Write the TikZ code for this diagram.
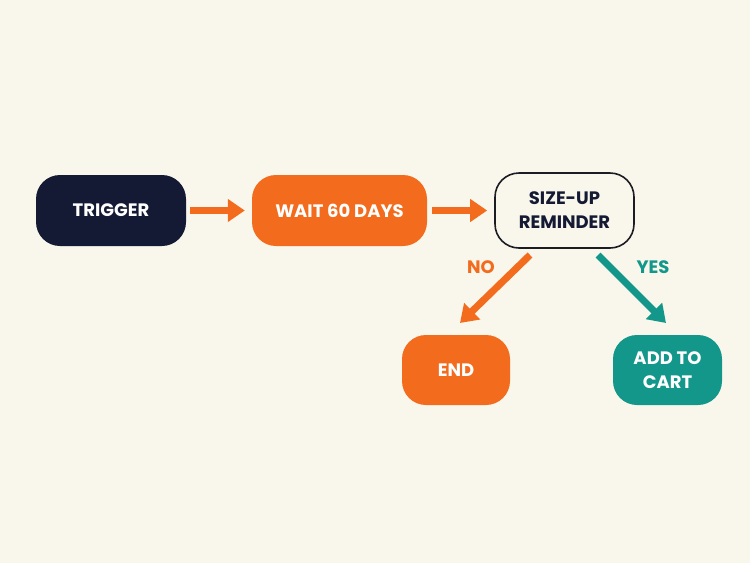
\documentclass[tikz,border=0pt]{standalone}
\usepackage{fontspec}
\setmainfont{Poppins}
\usetikzlibrary{arrows.meta}
\definecolor{bgc}{HTML}{F9F6EC}
\definecolor{navy}{HTML}{141A33}
\definecolor{orng}{HTML}{F36B1C}
\definecolor{teal}{HTML}{13978A}
\definecolor{edgec}{HTML}{1C1C22}
\tikzset{
  box/.style={rounded corners=24pt, minimum height=71pt, align=center,
    font=\fontsize{18}{24}\selectfont\bfseries, inner sep=0pt},
  darkbox/.style={box, fill=navy, text=white},
  orbox/.style={box, fill=orng, text=white},
  tealbox/.style={box, fill=teal, text=white},
  plainbox/.style={box, draw=edgec, line width=1.6pt, fill=bgc, text=navy},
  flow/.style={line width=7pt, -{Triangle[width=22pt,length=17pt]}},
  lbl/.style={font=\fontsize{18}{22}\selectfont\bfseries}
}
\begin{document}
\begin{tikzpicture}[x=1pt,y=-1pt]
\fill[bgc] (0,0) rectangle (750,563);
\useasboundingbox (0,0) rectangle (750,563);
\node[darkbox, minimum width=150pt] (trig) at (111,210.5) {TRIGGER};
\node[orbox, minimum width=175pt] (wait) at (339.5,210.5) {WAIT 60 DAYS};
\node[plainbox, minimum width=139pt, minimum height=75pt] (size) at (564.5,210.5) {SIZE-UP\\REMINDER};
\node[orbox, minimum width=108pt, minimum height=70pt] (end) at (456,370) {END};
\node[tealbox, minimum width=109pt, minimum height=70pt] (cart) at (667.5,370) {ADD TO\\CART};
\draw[flow, orng, shorten <=4pt, shorten >=7pt] (trig) -- (wait);
\draw[flow, orng, shorten <=5pt, shorten >=7pt] (wait) -- (size);
\coordinate (noA) at (530,255);
\coordinate (noB) at (460,323);
\coordinate (yesA) at (598,255);
\coordinate (yesB) at (666,323);
\draw[flow, orng] (noA) -- (noB);
\draw[flow, teal] (yesA) -- (yesB);
\node[lbl, text=orng] (no) at (481,267) {NO};
\node[lbl, text=teal] (yes) at (653,267) {YES};
\end{tikzpicture}
\end{document}
